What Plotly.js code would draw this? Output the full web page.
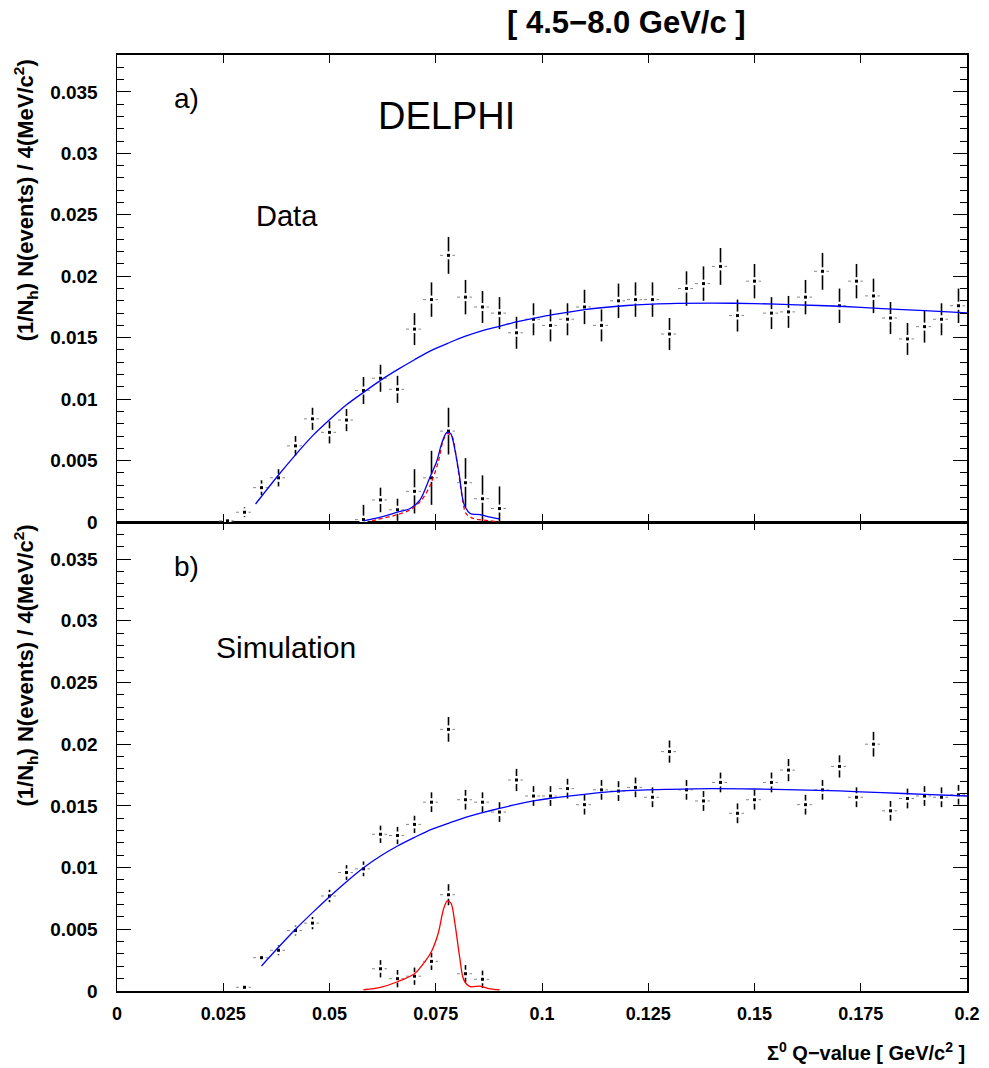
<!DOCTYPE html>
<html>
<head>
<meta charset="utf-8">
<script src="https://cdn.plot.ly/plotly-3.0.1.min.js"></script>
<style>html,body{margin:0;padding:0;background:#fff;}#chart{width:989px;height:1068px;}</style>
</head>
<body>
<div id="chart"></div>
<script>
// ---------- Panel a) Data ----------
const dataX = [0.026,0.030,0.034,0.038,0.042,0.046,0.050,0.054,0.058,0.062,0.066,0.070,0.074,0.078,0.082,0.086,0.090,0.094,0.098,0.102,0.106,0.110,0.114,0.118,0.122,0.126,0.130,0.134,0.138,0.142,0.146,0.150,0.154,0.158,0.162,0.166,0.170,0.174,0.178,0.182,0.186,0.190,0.194,0.198];
const dataY = [0.0001,0.0008,0.0028,0.0036,0.0062,0.0084,0.0073,0.0083,0.0107,0.0117,0.0108,0.0157,0.0181,0.0217,0.0183,0.0175,0.0170,0.0154,0.0165,0.0160,0.0165,0.0175,0.0160,0.0180,0.0181,0.0181,0.0153,0.0190,0.0194,0.0208,0.0168,0.0196,0.0170,0.0171,0.0183,0.0204,0.0176,0.0196,0.0184,0.0166,0.0149,0.0159,0.0165,0.0176];
const dataErr = [0.0002,0.0004,0.0006,0.0007,0.0008,0.0009,0.0009,0.0009,0.0011,0.0011,0.0011,0.0013,0.0014,0.0015,0.0014,0.0013,0.0013,0.0013,0.0013,0.0013,0.0013,0.0014,0.0013,0.0014,0.0014,0.0014,0.0013,0.0014,0.0014,0.0015,0.0013,0.0014,0.0013,0.0013,0.0014,0.0015,0.0014,0.0014,0.0014,0.0013,0.0013,0.0013,0.0013,0.0014];

const dataSigX = [0.058,0.062,0.066,0.070,0.074,0.078,0.082,0.086,0.090];
const dataSigY = [0.0002,0.0018,0.0010,0.0025,0.0036,0.0074,0.0032,0.0019,0.0011];
const dataSigErr = [0.0012,0.0010,0.0009,0.0018,0.0022,0.0019,0.0020,0.0019,0.0018];

const dataBkgFitX = [0.0326,0.038,0.042,0.046,0.050,0.054,0.058,0.062,0.066,0.070,0.074,0.078,0.082,0.086,0.090,0.094,0.098,0.102,0.110,0.120,0.130,0.140,0.150,0.160,0.170,0.180,0.190,0.200];
const dataBkgFitY = [0.00147,0.00383,0.00547,0.00701,0.00832,0.00954,0.01055,0.01153,0.01240,0.01321,0.01397,0.01457,0.01512,0.01558,0.01593,0.01629,0.01658,0.01683,0.01729,0.01762,0.01778,0.01781,0.01778,0.01767,0.01756,0.01737,0.01721,0.01702];

const dataSigFitX = [0.058,0.062,0.066,0.069,0.0713,0.0737,0.0752,0.0764,0.0776,0.0785,0.0795,0.0806,0.0816,0.0831,0.0854,0.0878,0.090];
const dataSigFitY = [0.0001,0.0004,0.0008,0.0011,0.0018,0.0037,0.0049,0.0064,0.0073,0.0072,0.0059,0.0037,0.0015,0.0007,0.0006,0.0004,0.00025];

const dataMcShapeX = [0.060,0.0611,0.066,0.069,0.0717,0.0737,0.0756,0.0768,0.0777,0.0788,0.0799,0.0811,0.0821,0.0838,0.0878,0.090];
const dataMcShapeY = [0.0001,0.0002,0.0006,0.0010,0.0018,0.0030,0.0049,0.0067,0.0072,0.0070,0.0051,0.0023,0.0007,0.0003,0.0001,0.0000];

// ---------- Panel b) Simulation ----------
const simX = [0.030,0.034,0.038,0.042,0.046,0.050,0.054,0.058,0.062,0.066,0.070,0.074,0.078,0.082,0.086,0.090,0.094,0.098,0.102,0.106,0.110,0.114,0.118,0.122,0.126,0.130,0.134,0.138,0.142,0.146,0.150,0.154,0.158,0.162,0.166,0.170,0.174,0.178,0.182,0.186,0.190,0.194,0.198];
const simY = [0.0003,0.0027,0.0033,0.0049,0.0055,0.0077,0.0096,0.0099,0.0127,0.0126,0.0135,0.0153,0.0212,0.0155,0.0153,0.0145,0.0171,0.0158,0.0158,0.0164,0.0151,0.0163,0.0162,0.0165,0.0157,0.0194,0.0163,0.0154,0.0169,0.0144,0.0155,0.0169,0.0179,0.0151,0.0163,0.0182,0.0157,0.0200,0.0146,0.0156,0.0158,0.0157,0.0159];
const simErr = [0.0001,0.0003,0.0004,0.0004,0.0005,0.0005,0.0006,0.0006,0.0007,0.0007,0.0007,0.0008,0.0010,0.0008,0.0008,0.0008,0.0009,0.0008,0.0008,0.0008,0.0008,0.0008,0.0008,0.0008,0.0008,0.0009,0.0008,0.0008,0.0008,0.0008,0.0008,0.0008,0.0009,0.0008,0.0008,0.0009,0.0008,0.0010,0.0008,0.0008,0.0008,0.0008,0.0008];

const simSigX = [0.062,0.066,0.070,0.074,0.078,0.082,0.086];
const simSigY = [0.0018,0.0010,0.0012,0.0024,0.0078,0.0014,0.00095];
const simSigErr = [0.0007,0.0007,0.0007,0.0007,0.00085,0.0007,0.0007];

const simBkgFitX = [0.034,0.038,0.042,0.046,0.050,0.054,0.058,0.062,0.066,0.070,0.074,0.078,0.082,0.086,0.090,0.094,0.098,0.102,0.110,0.120,0.130,0.140,0.150,0.160,0.170,0.180,0.190,0.200];
const simBkgFitY = [0.00203,0.00354,0.00500,0.00635,0.00764,0.00886,0.00999,0.01094,0.01175,0.01245,0.01310,0.01359,0.01407,0.01445,0.01480,0.01513,0.01540,0.01562,0.01594,0.01623,0.01634,0.01640,0.01637,0.01629,0.01621,0.01607,0.01594,0.01580];

const simSigFitX = [0.058,0.062,0.066,0.070,0.0725,0.074,0.0756,0.0768,0.0777,0.0786,0.0795,0.0806,0.0816,0.0831,0.0854,0.0874,0.090];
const simSigFitY = [0.0001,0.0003,0.00075,0.0014,0.0024,0.0032,0.0047,0.0066,0.0073,0.0071,0.0055,0.0028,0.0009,0.00035,0.0004,0.0002,0.0001];

const xTickVals = [0,0.025,0.05,0.075,0.1,0.125,0.15,0.175,0.2];
const xTickText = ['0','0.025','0.05','0.075','0.1','0.125','0.15','0.175','0.2'];
const yTickVals = [0,0.005,0.01,0.015,0.02,0.025,0.03,0.035];
const yTickText = ['0','0.005','0.01','0.015','0.02','0.025','0.03','0.035'];

const HALF_BIN = 0.002;

function hSegments(xs, ys) {
  const sx = [], sy = [];
  for (let i = 0; i < xs.length; i++) {
    sx.push(xs[i] - HALF_BIN, xs[i] + HALF_BIN, null);
    sy.push(ys[i], ys[i], null);
  }
  return {x: sx, y: sy};
}

function pointTraces(xs, ys, errs, xa, ya) {
  const h = hSegments(xs, ys);
  return [
    {x: h.x, y: h.y, xaxis: xa, yaxis: ya, mode: 'lines', hoverinfo: 'skip',
     line: {color: '#8a8a8a', width: 1, dash: 'dot'}, showlegend: false},
    {x: xs, y: ys, xaxis: xa, yaxis: ya, mode: 'markers', hoverinfo: 'skip',
     marker: {size: 1, color: 'rgba(0,0,0,0)'},
     error_y: {type: 'data', array: errs, visible: true, color: '#000', thickness: 1.6, width: 0},
     showlegend: false},
    {x: xs, y: ys, xaxis: xa, yaxis: ya, mode: 'markers', hoverinfo: 'skip',
     marker: {size: 8, symbol: 'square', color: '#fff'}, showlegend: false},
    {x: xs, y: ys, xaxis: xa, yaxis: ya, mode: 'markers',
     marker: {size: 3, symbol: 'square', color: '#000'}, showlegend: false}
  ];
}

function curve(xs, ys, xa, ya, color, dash) {
  return {x: xs, y: ys, xaxis: xa, yaxis: ya, mode: 'lines', hoverinfo: 'skip',
          line: {color: color, width: 1.3, dash: dash || 'solid', shape: 'spline', smoothing: 0.8},
          showlegend: false};
}

const traces = [].concat(
  pointTraces(dataX, dataY, dataErr, 'x2', 'y2'),
  pointTraces(dataSigX, dataSigY, dataSigErr, 'x2', 'y2'),
  pointTraces(simX, simY, simErr, 'x', 'y'),
  pointTraces(simSigX, simSigY, simSigErr, 'x', 'y'),
  [
    curve(dataBkgFitX, dataBkgFitY, 'x2', 'y2', '#0000ff'),
    curve(dataMcShapeX, dataMcShapeY, 'x2', 'y2', '#ff0000', '4px,3px'),
    curve(dataSigFitX, dataSigFitY, 'x2', 'y2', '#0000ff'),
    curve(simBkgFitX, simBkgFitY, 'x', 'y', '#0000ff'),
    curve(simSigFitX, simSigFitY, 'x', 'y', '#ff0000')
  ]
);

const FAM = 'Liberation Sans, Arial, sans-serif';
const tickFont = {family: FAM, size: 18, color: '#000', weight: 'bold'};
const yTickFont = {family: FAM, size: 19, color: '#000', weight: 'bold'};

const xAxisBase = {
  range: [0, 0.2], tickmode: 'array', tickvals: xTickVals, ticktext: xTickText,
  ticks: 'inside', ticklen: 8, tickwidth: 1, tickcolor: '#000',
  showline: true, linecolor: '#000', linewidth: 1.5, mirror: 'ticks',
  showgrid: false, zeroline: false, fixedrange: true
};
const yAxisBase = {
  range: [0, 0.038], tickmode: 'array', tickvals: yTickVals, ticktext: yTickText,
  ticks: 'inside', ticklen: 14, tickwidth: 1, tickcolor: '#000',
  minor: {dtick: 0.001, tick0: 0, ticks: 'inside', ticklen: 7, tickwidth: 1, tickcolor: '#000', showgrid: false},
  showline: true, linecolor: '#000', linewidth: 1.5, mirror: 'ticks',
  showgrid: false, zeroline: false, fixedrange: true,
  tickfont: yTickFont, ticklabelstandoff: 14
};

function label(text, x, y, size, extra) {
  return Object.assign({text: text, xref: 'paper', yref: 'paper', x: x, y: y,
    xanchor: 'center', yanchor: 'middle', showarrow: false,
    font: {family: FAM, size: size, color: '#000'}}, extra || {});
}

const yTitle = '(1/N<sub>h</sub>) N(events) / 4(MeV/c<sup>2</sup>)';

const layout = {
  width: 989, height: 1068,
  margin: {l: 117, r: 22, t: 55, b: 77},
  paper_bgcolor: '#fff', plot_bgcolor: '#fff',
  showlegend: false,
  xaxis: Object.assign({}, xAxisBase, {anchor: 'y', tickfont: tickFont, ticklabelstandoff: 6}),
  xaxis2: Object.assign({}, xAxisBase, {anchor: 'y2', matches: 'x', showticklabels: false, linewidth: 2}),
  yaxis: Object.assign({}, yAxisBase, {domain: [0, 0.501], anchor: 'x'}),
  yaxis2: Object.assign({}, yAxisBase, {domain: [0.501, 1], anchor: 'x2'}),
  annotations: [
    label('[ 4.5\u22128.0 GeV/c ]', 0.599, 1.035, 31, {font: {family: FAM, size: 31, color: '#000', weight: 'bold'}}),
    label('a)', 0.082, 0.954, 28),
    label('DELPHI', 0.388, 0.935, 38),
    label('Data', 0.2, 0.828, 29),
    label('b)', 0.082, 0.454, 28),
    label('Simulation', 0.199, 0.3665, 30),
    label('\u03A3<sup>0</sup> Q\u2212value [ GeV/c<sup>2</sup> ]', 1, -0.065, 20,
          {xanchor: 'right', font: {family: FAM, size: 20, color: '#000', weight: 'bold'}}),
    label(yTitle, -0.108, 0.845, 22, {textangle: -90, font: {family: FAM, size: 22, color: '#000', weight: 'bold'}}),
    label(yTitle, -0.108, 0.348, 22, {textangle: -90, font: {family: FAM, size: 22, color: '#000', weight: 'bold'}})
  ]
};

Plotly.newPlot('chart', traces, layout, {staticPlot: true, displayModeBar: false});
</script>
</body>
</html>
